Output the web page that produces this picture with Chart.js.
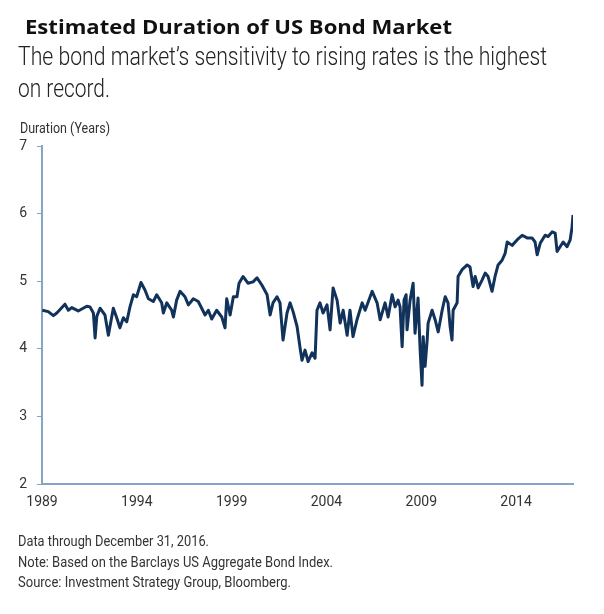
<!DOCTYPE html>
<html>
<head>
<meta charset="utf-8">
<script src="https://cdn.jsdelivr.net/npm/chart.js@4.4.1/dist/chart.umd.min.js"></script>
<style>
  html, body { margin: 0; padding: 0; background: #fff; }
  body { width: 604px; height: 614px; position: relative; overflow: hidden; }
  .txt { position: absolute; white-space: nowrap; color: #222; transform-origin: 0 0; }
  .narrow { font-family: Roboto, "DejaVu Sans Condensed", sans-serif; }
  #title { left: 25px; top: 17px; font: bold 20px/20px "Open Sans", "Liberation Sans", sans-serif; color: #111; }
  .sub { left: 18px; font-size: 26px; line-height: 32px; font-weight: 300; color: #222; }
  #sub1 { top: 40px; }
  #sub2 { top: 72px; }
  #ylabel { left: 20px; top: 121px; font-size: 14px; line-height: 14px; color: #333; }
  .note { left: 18px; font-size: 14px; line-height: 21px; color: #333; }
  #note1 { top: 531px; }
  #note2 { top: 552px; }
  #note3 { top: 572px; }
  #wrap { position: absolute; left: 0; top: 0; width: 604px; height: 614px; }
</style>
</head>
<body>
<div id="wrap"><canvas id="durationChart"></canvas></div>
<div id="title" class="txt fit" data-w="427">Estimated Duration of US Bond Market</div>
<div id="sub1" class="txt narrow sub fit" data-w="529">The bond market’s sensitivity to rising rates is the highest</div>
<div id="sub2" class="txt narrow sub fit" data-w="92">on record.</div>
<div id="ylabel" class="txt narrow fit" data-w="90">Duration (Years)</div>
<div id="note1" class="txt narrow note fit" data-w="191">Data through December 31, 2016.</div>
<div id="note2" class="txt narrow note fit" data-w="315">Note: Based on the Barclays US Aggregate Bond Index.</div>
<div id="note3" class="txt narrow note fit" data-w="273">Source: Investment Strategy Group, Bloomberg.</div>
<script>
// dates as decimal years
const dates = [
  1989.02, 1989.33, 1989.60, 1989.78, 1990.21, 1990.39, 1990.57, 1990.91, 1991.36, 1991.53,
  1991.71, 1991.80, 1991.89, 1992.06, 1992.32, 1992.50, 1992.76, 1992.94, 1993.11, 1993.29,
  1993.47, 1993.64, 1993.82, 1993.99, 1994.22, 1994.43, 1994.61, 1994.87, 1995.05, 1995.31,
  1995.40, 1995.58, 1995.84, 1995.93, 1996.10, 1996.28, 1996.54, 1996.72, 1996.98, 1997.24,
  1997.42, 1997.60, 1997.77, 1997.95, 1998.21, 1998.48, 1998.65, 1998.74, 1998.92, 1999.09,
  1999.28, 1999.39, 1999.60, 1999.86, 2000.13, 2000.34, 2000.60, 2000.87, 2001.03, 2001.18,
  2001.39, 2001.55, 2001.71, 2001.92, 2002.08, 2002.24, 2002.45, 2002.61, 2002.71, 2002.87,
  2003.03, 2003.24, 2003.40, 2003.50, 2003.66, 2003.82, 2004.03, 2004.19, 2004.35, 2004.56,
  2004.72, 2004.88, 2005.09, 2005.24, 2005.40, 2005.61, 2005.88, 2006.04, 2006.41, 2006.67,
  2006.83, 2007.09, 2007.25, 2007.46, 2007.62, 2007.78, 2007.88, 2007.99, 2008.09, 2008.20,
  2008.25, 2008.41, 2008.57, 2008.67, 2008.83, 2008.94, 2009.04, 2009.10, 2009.20, 2009.31,
  2009.36, 2009.57, 2009.73, 2009.89, 2010.10, 2010.26, 2010.41, 2010.52, 2010.62, 2010.68,
  2010.89, 2010.94, 2011.15, 2011.42, 2011.57, 2011.73, 2011.84, 2012.00, 2012.21, 2012.37,
  2012.52, 2012.73, 2012.89, 2013.05, 2013.26, 2013.42, 2013.53, 2013.79, 2014.05, 2014.32,
  2014.58, 2014.84, 2015.00, 2015.11, 2015.27, 2015.53, 2015.69, 2015.90, 2016.06, 2016.16,
  2016.32, 2016.48, 2016.69, 2016.85, 2016.95, 2017.00
];
const duration = [
  4.57, 4.55, 4.49, 4.53, 4.66, 4.57, 4.61, 4.56, 4.63, 4.62,
  4.53, 4.16, 4.48, 4.60, 4.50, 4.20, 4.60, 4.46, 4.31, 4.46,
  4.40, 4.62, 4.80, 4.77, 4.98, 4.87, 4.74, 4.70, 4.80, 4.68,
  4.53, 4.68, 4.57, 4.47, 4.72, 4.85, 4.77, 4.65, 4.74, 4.70,
  4.60, 4.50, 4.57, 4.44, 4.57, 4.47, 4.31, 4.74, 4.50, 4.77,
  4.77, 4.97, 5.07, 4.97, 4.99, 5.05, 4.94, 4.80, 4.50, 4.68,
  4.77, 4.68, 4.13, 4.53, 4.68, 4.55, 4.33, 4.01, 3.83, 3.98,
  3.81, 3.94, 3.86, 4.57, 4.68, 4.53, 4.65, 4.28, 4.90, 4.72,
  4.38, 4.57, 4.20, 4.57, 4.18, 4.43, 4.68, 4.57, 4.85, 4.68,
  4.43, 4.68, 4.47, 4.80, 4.62, 4.72, 4.62, 4.03, 4.72, 4.80,
  4.28, 4.72, 4.97, 4.23, 4.75, 3.98, 3.46, 4.18, 3.74, 4.13,
  4.38, 4.57, 4.43, 4.25, 4.57, 4.77, 4.68, 4.33, 4.13, 4.57,
  4.68, 5.07, 5.17, 5.24, 5.21, 4.92, 5.07, 4.90, 5.02, 5.12,
  5.07, 4.85, 5.07, 5.24, 5.31, 5.41, 5.58, 5.53, 5.61, 5.68,
  5.64, 5.64, 5.58, 5.39, 5.56, 5.68, 5.66, 5.73, 5.71, 5.44,
  5.51, 5.58, 5.51, 5.61, 5.80, 5.98
];
const yearTicks = [1989, 1994, 1999, 2004, 2009, 2014];
const durationTicks = [2, 3, 4, 5, 6, 7];

const axisColor = '#86a3c8';
const lineColor = '#11325a';
const tickFont = 'Roboto, "DejaVu Sans Condensed", sans-serif';

// squeeze/stretch the html texts to the widths they have in the reference
function fitTexts() {
  document.querySelectorAll('.fit').forEach(el => {
    el.style.transform = '';
    const w = el.getBoundingClientRect().width;
    const target = +el.dataset.w;
    if (w > 0) el.style.transform = 'scaleX(' + (target / w).toFixed(4) + ')';
  });
}
fitTexts();
if (document.fonts && document.fonts.ready) document.fonts.ready.then(fitTexts);

const points = dates.map((d, i) => ({ x: d, y: duration[i] }));

const ctx = document.getElementById('durationChart');
new Chart(ctx, {
  type: 'line',
  data: {
    datasets: [{
      data: points,
      borderColor: lineColor,
      borderWidth: 3,
      pointRadius: 0,
      tension: 0,
      borderJoinStyle: 'round'
    }]
  },
  options: {
    responsive: true,
    maintainAspectRatio: false,
    animation: false,
    layout: { padding: { top: 146, right: 31, left: 0, bottom: 0 } },
    plugins: { legend: { display: false }, tooltip: { enabled: false } },
    scales: {
      x: {
        type: 'linear',
        min: 1989,
        max: 2017,
        afterBuildTicks: axis => { axis.ticks = yearTicks.map(v => ({ value: v })); },
        afterFit: axis => { axis.height = 130; },
        grid: { drawOnChartArea: false, drawTicks: false },
        border: { color: axisColor, width: 2 },
        ticks: {
          padding: 10,
          color: '#333',
          font: { family: tickFont, size: 14 },
          callback: v => String(v),
          maxRotation: 0
        }
      },
      y: {
        min: 2,
        max: 7,
        afterBuildTicks: axis => { axis.ticks = durationTicks.map(v => ({ value: v })); },
        afterFit: axis => { axis.width = 42; },
        grid: { drawOnChartArea: false, drawTicks: true, tickLength: 5, color: axisColor },
        border: { color: axisColor, width: 2 },
        ticks: {
          padding: 10,
          color: '#333',
          font: { family: tickFont, size: 14 }
        }
      }
    }
  }
});
</script>
</body>
</html>
